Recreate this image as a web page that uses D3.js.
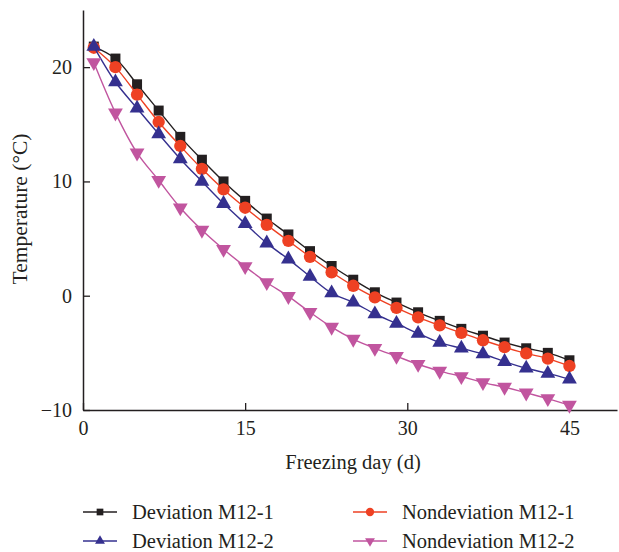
<!DOCTYPE html>
<html>
<head>
<meta charset="utf-8">
<script src="https://cdn.jsdelivr.net/npm/d3@7"></script>
<style>
  body { margin: 0; background: #fff; }
  text { font-family: "Liberation Serif", "DejaVu Serif", serif; fill: #231f20; }
</style>
</head>
<body>
<div id="chart"></div>
<script>
const days = [1, 3, 5, 7, 9, 11, 13, 15, 17, 19, 21, 23, 25, 27, 29, 31, 33, 35, 37, 39, 41, 43, 45];

const deviation1 = [21.8, 20.75, 18.5, 16.2, 13.9, 11.9, 10.0, 8.3, 6.75, 5.36, 3.9, 2.6, 1.4, 0.3, -0.6, -1.45, -2.2, -2.9, -3.5, -4.1, -4.6, -5.0, -5.65];
const nondeviation1 = [21.7, 20.0, 17.6, 15.2, 13.1, 11.1, 9.3, 7.7, 6.2, 4.8, 3.4, 2.05, 0.87, -0.15, -1.07, -1.9, -2.6, -3.25, -3.9, -4.5, -5.05, -5.5, -6.15];
const deviation2 = [21.8, 18.7, 16.4, 14.15, 11.97, 10.0, 8.06, 6.3, 4.6, 3.2, 1.68, 0.23, -0.58, -1.6, -2.43, -3.3, -4.1, -4.6, -5.1, -5.77, -6.35, -6.8, -7.3];
const nondeviation2 = [20.4, 16.0, 12.5, 10.1, 7.7, 5.74, 4.06, 2.55, 1.16, -0.06, -1.45, -2.75, -3.8, -4.6, -5.3, -6.0, -6.6, -7.07, -7.6, -8.0, -8.5, -9.0, -9.57];

const xTicks = [0, 15, 30, 45];
const yTicks = [-10, 0, 10, 20];

const series = [
  {name: "Deviation M12-1", values: deviation1, color: "#231f20", symbol: d3.symbolSquare, size: 100, rot: 0},
  {name: "Nondeviation M12-1", values: nondeviation1, color: "#ee4123", symbol: d3.symbolCircle, size: 120, rot: 0},
  {name: "Deviation M12-2", values: deviation2, color: "#35308f", symbol: d3.symbolTriangle, size: 95, rot: 0},
  {name: "Nondeviation M12-2", values: nondeviation2, color: "#c1559f", symbol: d3.symbolTriangle, size: 95, rot: 180}
];

const width = 619, height = 552;

const svg = d3.select("#chart").append("svg")
  .attr("width", width)
  .attr("height", height);

const x = d3.scaleLinear().domain([0, 49.4]).range([83, 617]);
const y = d3.scaleLinear().domain([-10, 25]).range([410, 10]);

// axes, ticks pointing inward
const xAxis = svg.append("g")
  .attr("transform", "translate(0,410)")
  .call(d3.axisBottom(x).tickValues(xTicks).tickSize(-7).tickSizeOuter(0).tickPadding(11));
const yAxis = svg.append("g")
  .attr("transform", "translate(83,0)")
  .call(d3.axisLeft(y).tickValues(yTicks).tickSize(-7).tickSizeOuter(0).tickPadding(11));

[xAxis, yAxis].forEach(function (g) {
  g.select(".domain").attr("stroke", "#231f20").attr("stroke-width", 1.5);
  g.selectAll(".tick line").attr("stroke", "#231f20").attr("stroke-width", 1.3);
  g.selectAll(".tick text")
    .style("font-family", "'Liberation Serif', 'DejaVu Serif', serif")
    .style("font-size", "20px")
    .attr("fill", "#231f20");
});

svg.append("text")
  .attr("x", 353)
  .attr("y", 469)
  .attr("text-anchor", "middle")
  .style("font-size", "20.5px")
  .text("Freezing day (d)");

svg.append("text")
  .attr("transform", "translate(27,209) rotate(-90)")
  .attr("text-anchor", "middle")
  .style("font-size", "21.5px")
  .text("Temperature (°C)");

const line = d3.line()
  .x(function (d, i) { return x(days[i]); })
  .y(function (d) { return y(d); })
  .curve(d3.curveCatmullRom);

series.forEach(function (s) {
  const g = svg.append("g");
  g.append("path")
    .attr("d", line(s.values))
    .attr("fill", "none")
    .attr("stroke", s.color)
    .attr("stroke-width", 1.4);
  g.selectAll("path.marker")
    .data(s.values)
    .enter()
    .append("path")
    .attr("class", "marker")
    .attr("d", d3.symbol().type(s.symbol).size(s.size))
    .attr("transform", function (d, i) {
      return "translate(" + x(days[i]) + "," + y(d) + ") rotate(" + s.rot + ")";
    })
    .attr("fill", s.color);
});

// legend
const legendPos = [[83, 512], [353, 512], [83, 541], [353, 541]];
series.forEach(function (s, i) {
  const p = legendPos[i];
  const g = svg.append("g").attr("transform", "translate(" + p[0] + "," + p[1] + ")");
  g.append("line")
    .attr("x1", 0).attr("x2", 34)
    .attr("stroke", s.color)
    .attr("stroke-width", 1.4);
  g.append("path")
    .attr("d", d3.symbol().type(s.symbol).size(s.size * 0.45))
    .attr("transform", "translate(17,0) rotate(" + s.rot + ")")
    .attr("fill", s.color);
  g.append("text")
    .attr("x", 49)
    .attr("y", 7)
    .style("font-size", "20.5px")
    .text(s.name);
});
</script>
</body>
</html>
